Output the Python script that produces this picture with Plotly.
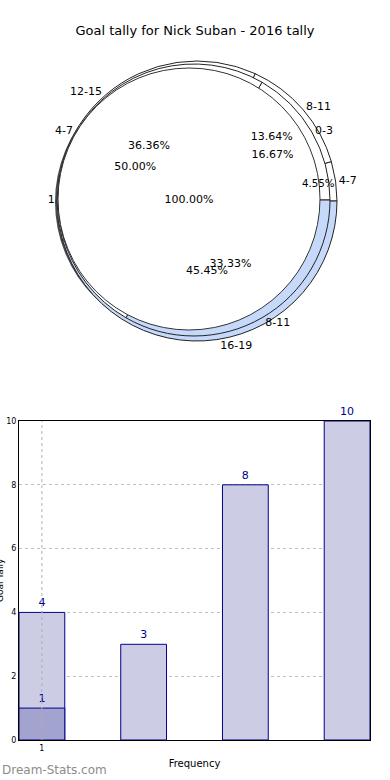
import plotly.graph_objects as go

W, H = 390, 780

title = "Goal tally for Nick Suban - 2016 tally"

# Pie data (three overlaid pies)
pie1_labels = ["1"]
pie1_values = [1]
pie2_labels = ["0-3", "4-7", "8-11"]
pie2_values = [1, 3, 2]
pie3_labels = ["4-7", "8-11", "12-15", "16-19"]
pie3_values = [1, 3, 8, 10]

# Bar data
bar_cats = [0, 1, 2, 3]
bar_values = [4, 3, 8, 10]
overlay_cats = [0]
overlay_values = [1]
x_tickvals = [0]
x_ticktext = ["1"]
y_ticks = [0, 2, 4, 6, 8, 10]


def dom(cx, cy, r):
    return dict(x=[(cx - r) / W, (cx + r) / W], y=[1 - (cy + r) / H, 1 - (cy - r) / H])


def start_rot(values):
    # first slice starts at 3 o'clock, going counterclockwise (plotly ccw mode)
    return 90 - 360.0 * values[0] / sum(values)


fig = go.Figure()

common = dict(sort=False, direction="counterclockwise", showlegend=False, hoverinfo="skip")

D1 = dom(189, 199, 131)
D2 = dom(194, 200, 136)
D3 = dom(197, 201, 140)

# shadow
fig.add_trace(go.Pie(labels=pie1_labels, values=pie1_values, domain=dom(189, 202, 134),
                     marker=dict(colors=["#4a4a4a"], line=dict(width=0)),
                     textinfo="none", rotation=start_rot(pie1_values), **common))
# pie 3 (outermost)
fig.add_trace(go.Pie(labels=pie3_labels, values=pie3_values, domain=D3,
                     marker=dict(colors=["#ffffff", "#ffffff", "#ffffff", "#c6d9fb"],
                                 line=dict(color="#222222", width=1)),
                     textinfo="none", rotation=start_rot(pie3_values), **common))
# pie 2
fig.add_trace(go.Pie(labels=pie2_labels, values=pie2_values, domain=D2,
                     marker=dict(colors=["#ffffff", "#ffffff", "#c6d9fb"],
                                 line=dict(color="#222222", width=1)),
                     textinfo="none", rotation=start_rot(pie2_values), **common))
# pie 1 (top)
fig.add_trace(go.Pie(labels=pie1_labels, values=pie1_values, domain=D1,
                     marker=dict(colors=["#ffffff"], line=dict(color="#333333", width=1)),
                     textinfo="none", rotation=start_rot(pie1_values), **common))

txtfont = dict(family="DejaVu Sans", size=11, color="#000000")
for labels, values, d in [(pie1_labels, pie1_values, D1),
                          (pie2_labels, pie2_values, D2),
                          (pie3_labels, pie3_values, D3)]:
    n = len(labels)
    clear = dict(colors=["rgba(0,0,0,0)"] * n, line=dict(width=0))
    fig.add_trace(go.Pie(labels=labels, values=values, domain=d, marker=clear,
                         texttemplate="%{percent:.2%}", textposition="inside",
                         insidetextorientation="horizontal", textfont=txtfont,
                         rotation=start_rot(values), **common))
    fig.add_trace(go.Pie(labels=labels, values=values, domain=d, marker=clear,
                         texttemplate="%{label}", textposition="outside",
                         textfont=txtfont, rotation=start_rot(values), **common))

# Bars
fig.add_trace(go.Bar(x=bar_cats, y=bar_values, width=0.45,
                     marker=dict(color="#ccccE5", line=dict(color="#00008b", width=1)),
                     text=[str(v) for v in bar_values], textposition="outside",
                     textfont=dict(family="DejaVu Sans", size=11, color="#00008b"),
                     cliponaxis=False, showlegend=False, hoverinfo="skip"))
fig.add_trace(go.Bar(x=overlay_cats, y=overlay_values, width=0.45,
                     marker=dict(color="#a3a3cf", line=dict(color="#00008b", width=1)),
                     text=[str(v) for v in overlay_values], textposition="outside",
                     textfont=dict(family="DejaVu Sans", size=11, color="#00008b"),
                     cliponaxis=False, showlegend=False, hoverinfo="skip"))

for tv in x_tickvals:
    fig.add_shape(type="line", xref="x", yref="y domain", x0=tv, x1=tv, y0=0, y1=1,
                  line=dict(color="#b0b0b0", width=1, dash="dot"), layer="above")

fig.update_layout(
    width=W, height=H,
    margin=dict(l=0, r=0, t=0, b=0),
    paper_bgcolor="white", plot_bgcolor="white",
    barmode="overlay",
    font=dict(family="DejaVu Sans", color="#000000"),
    title=dict(text=title, x=0.5, xanchor="center", y=1 - 30 / H, yanchor="middle",
               font=dict(size=13, family="DejaVu Sans", color="#000000")),
    xaxis=dict(domain=[19 / W, 370 / W], range=[-0.225, 3.225], automargin=False,
               tickvals=x_tickvals, ticktext=x_ticktext,
               tickfont=dict(size=8), showgrid=False, zeroline=False,
               showline=True, linecolor="#000000", linewidth=1, mirror=True,
               ticks="", title=dict(text="Frequency", font=dict(size=10), standoff=8)),
    yaxis=dict(domain=[1 - 740 / H, 1 - 421 / H], range=[0, 10], tickvals=y_ticks,
               automargin=False,
               tickfont=dict(size=8), showgrid=True, gridcolor="#c0c0c0", griddash="dot",
               zeroline=False, showline=True, linecolor="#000000", linewidth=1, mirror=True,
               ticks=""),
    annotations=[
        dict(text="Goal Tally", x=0, y=1 - 580 / H, xref="paper", yref="paper",
             textangle=-90, showarrow=False, font=dict(size=9, color="#000000"),
             xanchor="center", yanchor="middle"),
        dict(text="Dream-Stats.com", x=0, y=1 - 770 / H, xref="paper", yref="paper",
             showarrow=False, font=dict(size=12, color="#8c8c8c", family="DejaVu Sans"),
             xanchor="left", yanchor="middle"),
    ],
)

fig.write_html("out.html", config={"displayModeBar": False},
               post_script="document.body.style.margin='0';")
